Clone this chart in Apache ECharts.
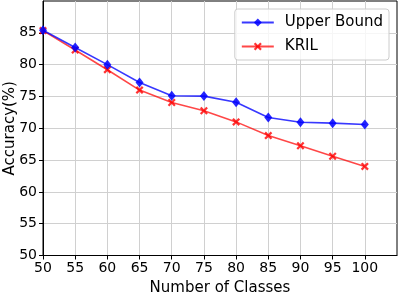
<!DOCTYPE html>
<html><head><meta charset="utf-8">
<script src="https://cdn.jsdelivr.net/npm/echarts@6/dist/echarts.min.js"></script>
<style>html,body{margin:0;padding:0;background:#fff}#c{width:399px;height:295px}</style>
</head><body><div id="c"></div>
<script>
const classes = [50, 55, 60, 65, 70, 75, 80, 85, 90, 95, 100];
const upperBound = [85.4, 82.7, 80.0, 77.2, 75.1, 75.05, 74.1, 71.7, 70.95, 70.8, 70.6];
const kril = [85.35, 82.3, 79.2, 76.0, 74.05, 72.75, 71.0, 68.85, 67.25, 65.6, 64.0];
const xTicks = [50, 55, 60, 65, 70, 75, 80, 85, 90, 95, 100];
const yTicks = [50, 55, 60, 65, 70, 75, 80, 85];

const FONT = 'DejaVu Sans';
const xMarker = 'path://M2 0 L5 3 L8 0 L10 2 L7 5 L10 8 L8 10 L5 7 L2 10 L0 8 L3 5 L0 2 Z';
const chart = echarts.init(document.getElementById('c'), null, {renderer: 'canvas'});
chart.setOption({
  animation: false,
  textStyle: {fontFamily: FONT},
  grid: {left: 43, right: 2, top: 1, bottom: 39.5, show: true, borderColor: '#000', borderWidth: 1,
    containLabel: false, outerBoundsMode: 'none'},
  legend: {
    right: 10, top: 9, orient: 'vertical', align: 'left',
    itemWidth: 32, itemHeight: 10, itemGap: 5,
    padding: [4, 6, 4, 6],
    backgroundColor: 'rgba(255,255,255,0.8)',
    borderColor: '#cccccc', borderWidth: 1, borderRadius: 3,
    textStyle: {fontFamily: FONT, fontSize: 15, color: '#000', padding: [0, 0, 0, 6], lineHeight: 19},
    data: ['Upper Bound', 'KRIL']
  },
  xAxis: {
    type: 'value', min: 50, max: 105, interval: 5,
    name: 'Number of Classes', nameLocation: 'middle', nameGap: 25, nameMoveOverlap: false,
    nameTextStyle: {fontFamily: FONT, fontSize: 15, color: '#000'},
    axisLine: {show: true, lineStyle: {color: '#000', width: 1}},
    axisTick: {show: true, length: 4, inside: false, lineStyle: {color: '#000'}, customValues: xTicks},
    axisLabel: {fontFamily: FONT, fontSize: 14, color: '#000', margin: 6, customValues: xTicks},
    splitLine: {show: true, lineStyle: {color: '#d0d0d0', width: 1}}
  },
  yAxis: {
    type: 'value', min: 50, max: 90, interval: 5,
    name: 'Accuracy(%)', nameLocation: 'middle', nameGap: 25, nameMoveOverlap: false,
    nameTextStyle: {fontFamily: FONT, fontSize: 15, color: '#000'},
    axisLine: {show: true, lineStyle: {color: '#000', width: 1}},
    axisTick: {show: true, length: 4, inside: false, lineStyle: {color: '#000'}, customValues: yTicks},
    axisLabel: {fontFamily: FONT, fontSize: 14, color: '#000', margin: 6, customValues: yTicks},
    splitLine: {show: true, lineStyle: {color: '#d0d0d0', width: 1}}
  },
  series: [
    {
      name: 'Upper Bound', type: 'line',
      data: classes.map((c, i) => [c, upperBound[i]]),
      symbol: 'diamond', symbolSize: [8, 10],
      lineStyle: {color: 'rgba(0,0,255,0.78)', width: 1.6},
      itemStyle: {color: 'rgba(0,0,255,0.85)'},
      z: 3
    },
    {
      name: 'KRIL', type: 'line',
      data: classes.map((c, i) => [c, kril[i]]),
      symbol: xMarker, symbolSize: 8,
      lineStyle: {color: 'rgba(255,0,0,0.72)', width: 1.6},
      itemStyle: {color: 'rgba(255,0,0,0.8)'},
      z: 2
    }
  ]
});
</script></body></html>
